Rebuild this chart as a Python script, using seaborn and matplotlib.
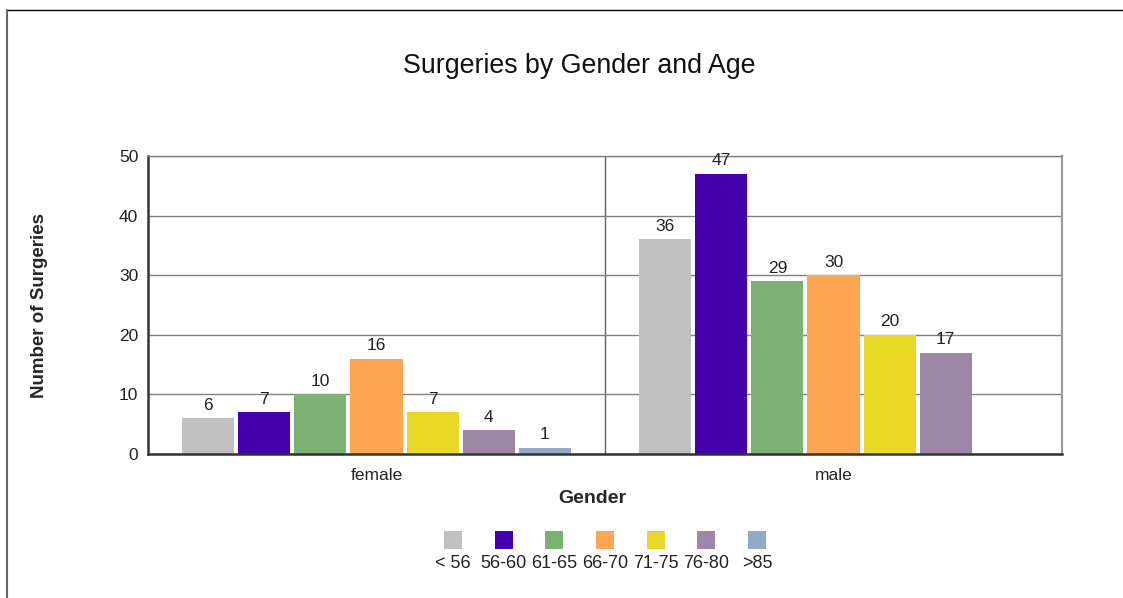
import pandas as pd
import seaborn as sns
import matplotlib.pyplot as plt
import numpy as np
from matplotlib.patches import Rectangle
from matplotlib.lines import Line2D

# chart data
genders = ['female', 'male']
age_groups = ['< 56', '56-60', '61-65', '66-70', '71-75', '76-80', '>85']
female_counts = [6, 7, 10, 16, 7, 4, 1]
male_counts = [36, 47, 29, 30, 20, 17, np.nan]
colors = ['#C0C0C0', '#4400AA', '#7BB274', '#FCA552', '#E8D828', '#9C88A6', '#94A8C8']

df = pd.DataFrame({
    'Gender': np.repeat(genders, len(age_groups)),
    'Age': age_groups * len(genders),
    'Surgeries': female_counts + male_counts,
})

sns.set_style('white')
plt.rcParams['font.family'] = ['Liberation Sans', 'DejaVu Sans']

fig = plt.figure(figsize=(11.23, 5.98), dpi=100)
ax = fig.add_axes([0.1318, 0.2408, 0.8139, 0.4983])

sns.barplot(data=df, x='Gender', y='Surgeries', hue='Age', hue_order=age_groups,
            order=genders, palette=colors, width=0.86, gap=0.07, saturation=1,
            edgecolor='none', legend=False, ax=ax)

for cont in ax.containers:
    labels = ['' if np.isnan(v) else f'{v:.0f}' for v in cont.datavalues]
    ax.bar_label(cont, labels=labels, padding=4, fontsize=12.5, color='#222222')

ax.set_ylim(0, 50)
ax.set_xlim(-0.5, 1.5)
ax.set_yticks(range(0, 51, 10))
ax.yaxis.grid(True, color='#808080', linewidth=1)
ax.set_axisbelow(True)
ax.axvline(0.5, color='#606060', linewidth=1, zorder=0)

for side in ['left', 'bottom']:
    ax.spines[side].set_color('#333333')
    ax.spines[side].set_linewidth(1.8)
ax.spines['right'].set_color('#999999')
ax.spines['right'].set_linewidth(1.5)
ax.spines['top'].set_color('#808080')
ax.spines['top'].set_linewidth(1)

ax.tick_params(axis='y', labelsize=12.5, pad=7, length=0, labelcolor='#222222')
ax.tick_params(axis='x', labelsize=12.5, pad=10, length=0, labelcolor='#222222')

ax.set_xlabel('Gender', fontsize=14, fontweight='bold')
ax.set_ylabel('Number of Surgeries', fontsize=13.5, fontweight='bold')
ax.xaxis.set_label_coords(0.486, -0.12)
ax.yaxis.set_label_coords(-0.109, 0.5)

fig.text(0.516, 0.889, 'Surgeries by Gender and Age', ha='center', va='center',
         fontsize=19.3, color='#111111')

# legend: swatches with labels underneath
step = 50.7 / 1123
x0 = 453 / 1123
sq_w, sq_h = 18 / 1123, 18 / 598
for i, (lab, col) in enumerate(zip(age_groups, colors)):
    cx = x0 + i * step
    fig.add_artist(Rectangle((cx - sq_w / 2, 1 - 549 / 598), sq_w, sq_h,
                             transform=fig.transFigure, facecolor=col, edgecolor='none'))
    fig.text(cx, 1 - 563 / 598, lab, ha='center', va='center', fontsize=13, color='#222222')

# figure border (top and left)
fig.add_artist(Line2D([7 / 1123, 1], [1 - 10 / 598, 1 - 10 / 598],
                      transform=fig.transFigure, color='black', linewidth=1))
fig.add_artist(Line2D([7 / 1123, 7 / 1123], [0, 1 - 10 / 598],
                      transform=fig.transFigure, color='#666666', linewidth=1.5))

fig.savefig('out.png', dpi=100)
